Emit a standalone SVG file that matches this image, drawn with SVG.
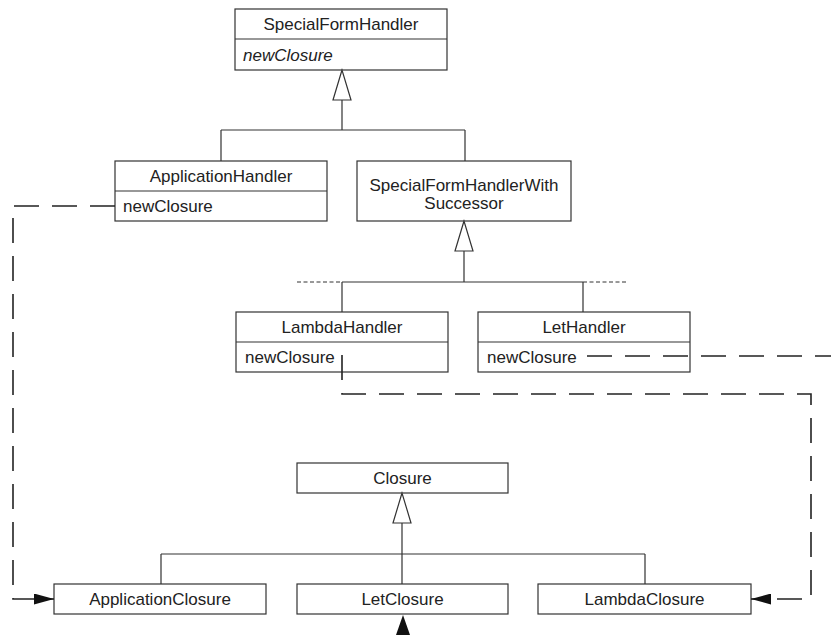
<svg xmlns="http://www.w3.org/2000/svg" width="831" height="642" viewBox="0 0 831 642">
<style>
.box{fill:#fff;stroke:#333;stroke-width:1.2}
.t{font-family:"Liberation Sans",Arial,sans-serif;font-size:17px;fill:#222}
.c{text-anchor:middle}
.i{font-style:italic}
.solid{fill:none;stroke:#333;stroke-width:1.2}
.dots{fill:none;stroke:#333;stroke-width:1;stroke-dasharray:4 2.5}
.dash{fill:none;stroke:#222;stroke-width:1.6;stroke-dasharray:25 13}
.tri{fill:#fff;stroke:#333;stroke-width:1.2}
</style>
<defs>
<marker id="arr" markerUnits="userSpaceOnUse" viewBox="0 0 20 11" refX="20" refY="5.5" markerWidth="20" markerHeight="11" orient="auto">
<path d="M0,0 L20,5.5 L0,11 Z" fill="#111"/>
</marker>
</defs>
<g id="SpecialFormHandler">
<rect class="box" x="235" y="9" width="212" height="61"/>
<line class="solid" x1="235" y1="39" x2="447" y2="39"/>
<text class="t c" x="341" y="30">SpecialFormHandler</text>
<text class="t i" x="243" y="61">newClosure</text>
</g>
<g id="ApplicationHandler">
<rect class="box" x="115" y="161" width="212" height="60"/>
<line class="solid" x1="115" y1="191" x2="327" y2="191"/>
<text class="t c" x="221" y="182">ApplicationHandler</text>
<text class="t" x="123" y="212">newClosure</text>
</g>
<g id="SpecialFormHandlerWithSuccessor">
<rect class="box" x="357" y="161" width="214" height="60"/>
<text class="t c" x="464" y="191">SpecialFormHandlerWith</text>
<text class="t c" x="464" y="209">Successor</text>
</g>
<g id="LambdaHandler">
<rect class="box" x="236" y="312" width="212" height="60"/>
<line class="solid" x1="236" y1="342" x2="448" y2="342"/>
<text class="t c" x="342" y="333">LambdaHandler</text>
<text class="t" x="245" y="363">newClosure</text>
</g>
<g id="LetHandler">
<rect class="box" x="478" y="312" width="212" height="60"/>
<line class="solid" x1="478" y1="342" x2="690" y2="342"/>
<text class="t c" x="584" y="333">LetHandler</text>
<text class="t" x="487" y="363">newClosure</text>
</g>
<g id="Closure">
<rect class="box" x="297" y="463" width="211" height="30"/>
<text class="t c" x="402.5" y="484">Closure</text>
</g>
<g id="ApplicationClosure">
<rect class="box" x="54" y="584" width="212" height="30"/>
<text class="t c" x="160" y="605">ApplicationClosure</text>
</g>
<g id="LetClosure">
<rect class="box" x="297" y="584" width="211" height="30"/>
<text class="t c" x="402.5" y="605">LetClosure</text>
</g>
<g id="LambdaClosure">
<rect class="box" x="538" y="584" width="213" height="30"/>
<text class="t c" x="644.5" y="605">LambdaClosure</text>
</g>
<g id="connectors">
<path class="solid" d="M342,100 V130 M221,130 H465 M221,130 V161 M465,130 V161"/>
<polygon class="tri" points="342,70 333,100 351,100"/>
<path class="solid" d="M464,251 V282 M342,282 H583 M342,282 V312 M583,282 V312"/>
<path class="dots" d="M297,282 H342 M583,282 H628"/>
<polygon class="tri" points="464,221 455,251 473,251"/>
<path class="solid" d="M402,523 V584 M161,554 H645 M161,554 V584 M645,554 V584"/>
<polygon class="tri" points="402,493 393,523 411,523"/>
<path class="dash" d="M115,206 H13 V599 H54" marker-end="url(#arr)"/>
<path class="dash" d="M342,355 V394 H811 V599 H751" marker-end="url(#arr)"/>
<path class="dash" d="M587,356 H831"/>
<polygon points="403,615 396,635 410,635" fill="#111"/>
</g>
</svg>
